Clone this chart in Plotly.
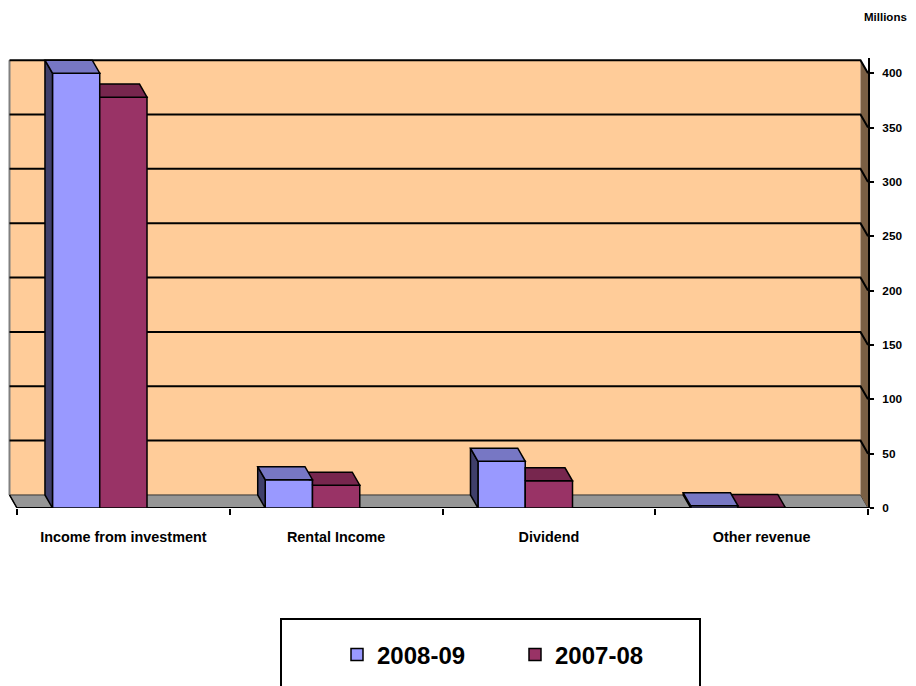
import plotly.graph_objects as go

# ---------------- data ----------------
categories = ["Income from investment", "Rental Income", "Dividend", "Other revenue"]
series_names = ["2008-09", "2007-08"]
values_2008_09 = [400, 26, 43, 2]
values_2007_08 = [378, 21, 25, 0.5]
y_tick_values = [0, 50, 100, 150, 200, 250, 300, 350, 400]
unit_label = "Millions"

# ---------------- styling ----------------
FONT = "Arial, Liberation Sans, Helvetica, sans-serif"
front_colors = ["#9999FF", "#993366"]
top_colors = ["#7777C4", "#77264E"]
side_colors = ["#3F3F6B", "#5A1F3D"]
WALL = "#FFCC99"
FLOOR = "#969696"
RIGHT_WALL = "#7A5F44"

OFF = 8                               # page body margin in the browser
W, H = 916 - OFF, 686 - OFF
# plot area, in screenshot pixels
PX_LEFT, PX_RIGHT = 8, 868
PX_TOP, PX_BOTTOM = 58, 508
X_MAX = 3.5
UNIT_PX = 212.75                      # pixels per category
X_MIN = X_MAX - (PX_RIGHT - PX_LEFT) / UNIT_PX
Y_MAX = 414
BAR_W = 0.2222
OFFSETS = [-0.3333, -0.1111]
DX = 7.5 / UNIT_PX                    # depth offset (x, data units)
DY = 12                               # depth offset (y, data units)
WALL_TOP = max(y_tick_values)


def paper_x(px):
    return (px - PX_LEFT) / (PX_RIGHT - PX_LEFT)


def paper_y(py):
    return (PX_BOTTOM - py) / (PX_BOTTOM - PX_TOP)


xs = list(range(len(categories)))
series = [values_2008_09, values_2007_08]

fig = go.Figure()

# front faces (bars)
for name, vals, off, col in zip(series_names, series, OFFSETS, front_colors):
    fig.add_trace(go.Bar(
        x=xs, y=vals, name=name, width=BAR_W, offset=off,
        marker=dict(color=col, line=dict(color="black", width=1.5)),
        hoverinfo="y",
    ))


def poly_trace(px, py, color):
    return go.Scatter(
        x=px, y=py, mode="lines", fill="toself", fillcolor=color,
        line=dict(color="black", width=1.5), hoverinfo="skip",
        showlegend=False, xaxis="x2", yaxis="y",
    )


# maroon (right series) top faces, clipped where the blue bar hides them
px, py = [], []
for i in xs:
    vb, vm = values_2008_09[i], values_2007_08[i]
    xl = i + OFFSETS[1]
    xr = xl + BAR_W
    if vb >= vm + DY:
        px += [xl, xr, xr - DX, xl, xl, None]
        py += [vm, vm, vm + DY, vm + DY, vm, None]
    elif vb > vm:
        t = (vb - vm) / DY
        px += [xl, xr, xr - DX, xl - DX, xl - DX * t, xl, xl, None]
        py += [vm, vm, vm + DY, vm + DY, vb, vb, vm, None]
    else:
        px += [xl, xr, xr - DX, xl - DX, xl, None]
        py += [vm, vm, vm + DY, vm + DY, vm, None]
fig.add_trace(poly_trace(px, py, top_colors[1]))

# blue side faces
px, py = [], []
for i in xs:
    v = values_2008_09[i]
    xl = i + OFFSETS[0]
    px += [xl, xl, xl - DX, xl - DX, xl, None]
    py += [0, v, v + DY, DY, 0, None]
fig.add_trace(poly_trace(px, py, side_colors[0]))

# blue top faces
px, py = [], []
for i in xs:
    v = values_2008_09[i]
    xl = i + OFFSETS[0]
    xr = xl + BAR_W
    px += [xl, xr, xr - DX, xl - DX, xl, None]
    py += [v, v, v + DY, v + DY, v, None]
fig.add_trace(poly_trace(px, py, top_colors[0]))

# ---------------- walls / floor / gridlines ----------------
shapes = []
x_back_l, x_back_r = -0.5 - DX, X_MAX - DX
shapes.append(dict(type="rect", xref="x", yref="y", x0=x_back_l, x1=x_back_r,
                   y0=DY, y1=WALL_TOP + DY, fillcolor=WALL, line=dict(width=0),
                   layer="below"))
shapes.append(dict(type="path", xref="x", yref="y",
                   path=f"M{x_back_l},{DY} L{x_back_r},{DY} L{X_MAX},0 L-0.5,0 Z",
                   fillcolor=FLOOR, line=dict(color="#333333", width=1), layer="below"))
shapes.append(dict(type="path", xref="x", yref="y",
                   path=f"M{x_back_r},{DY} L{x_back_r},{WALL_TOP + DY} L{X_MAX},{WALL_TOP} L{X_MAX},0 Z",
                   fillcolor=RIGHT_WALL, line=dict(width=0), layer="below"))
shapes.append(dict(type="line", xref="x", yref="y", x0=x_back_l, x1=x_back_l,
                   y0=DY, y1=WALL_TOP + DY, line=dict(color="#808080", width=2),
                   layer="below"))
for v in y_tick_values[1:]:
    shapes.append(dict(type="path", xref="x", yref="y",
                       path=f"M{x_back_l},{v + DY} L{x_back_r},{v + DY} L{X_MAX},{v}",
                       line=dict(color="black", width=2), layer="below"))
shapes.append(dict(type="line", xref="x", yref="y", x0=-0.5, x1=X_MAX, y0=0, y1=0,
                   line=dict(color="black", width=2), layer="below"))
shapes.append(dict(type="line", xref="x", yref="y", x0=x_back_l, x1=-0.5, y0=DY, y1=0,
                   line=dict(color="black", width=1.5), layer="below"))
# legend frame
shapes.append(dict(type="rect", xref="paper", yref="paper",
                   x0=paper_x(281), x1=paper_x(700), y0=paper_y(700), y1=paper_y(619),
                   fillcolor="rgba(0,0,0,0)", line=dict(color="black", width=2)))

axis_common = dict(range=[X_MIN, X_MAX], showgrid=False, zeroline=False, showline=False)

fig.update_layout(
    width=W, height=H,
    margin=dict(l=PX_LEFT - OFF, r=916 - PX_RIGHT, t=PX_TOP - OFF, b=686 - PX_BOTTOM, pad=0),
    paper_bgcolor="white", plot_bgcolor="white",
    barmode="overlay",
    font=dict(family=FONT, color="black"),
    xaxis=dict(
        **axis_common, tickmode="array", tickvals=xs, ticktext=categories,
        ticks="", tickfont=dict(size=14.4, weight="bold", family=FONT),
        ticklabelstandoff=19,
        minor=dict(tickmode="array", tickvals=[i - 0.5 for i in range(len(categories) + 1)],
                   ticks="outside", ticklen=6, tickwidth=2, tickcolor="black"),
    ),
    xaxis2=dict(**axis_common, overlaying="x", anchor="y", showticklabels=False,
                ticks=""),
    yaxis=dict(
        range=[0, Y_MAX], side="right", tickmode="array", tickvals=y_tick_values,
        showgrid=False, zeroline=False, showline=True, linecolor="black", linewidth=2,
        ticks="outside", ticklen=4, tickwidth=2, tickcolor="black",
        tickfont=dict(size=11.8, weight="bold", family=FONT), ticklabelstandoff=6,
    ),
    shapes=shapes,
    showlegend=True,
    legend=dict(orientation="h", x=paper_x(337), xanchor="left",
                y=paper_y(655), yanchor="middle", bgcolor="rgba(0,0,0,0)",
                font=dict(size=24, weight="bold", family=FONT),
                entrywidth=133, traceorder="normal"),
    annotations=[dict(text=unit_label, xref="paper", yref="paper",
                      x=paper_x(885), y=paper_y(17), xanchor="center", yanchor="middle",
                      showarrow=False, font=dict(size=11.5, weight="bold", family=FONT))],
)

fig.write_html("out.html")
